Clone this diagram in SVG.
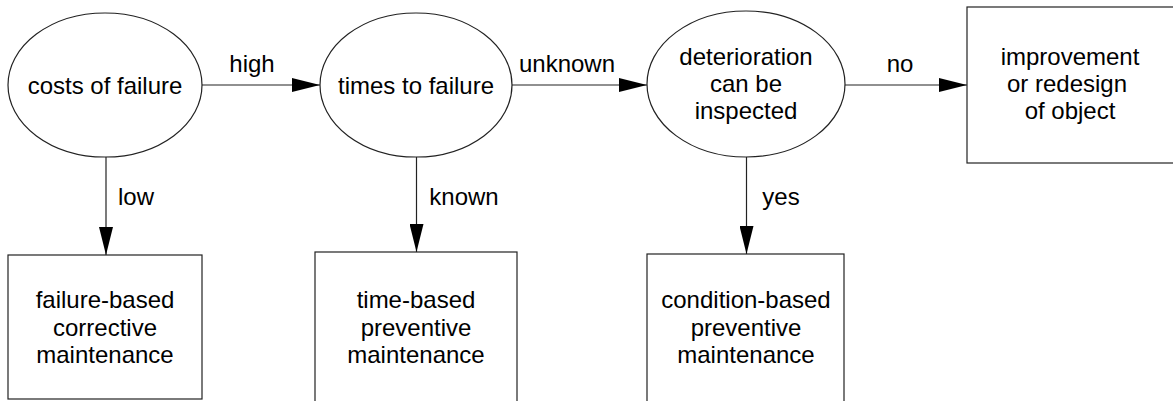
<svg xmlns="http://www.w3.org/2000/svg" width="1173" height="401" viewBox="0 0 1173 401">
<style>
text{font-family:"Liberation Sans",Arial,Helvetica,sans-serif;font-size:24px;fill:#000;text-anchor:middle}
.n{fill:#fff;stroke:#222;stroke-width:1.2}
.c{stroke:#222;stroke-width:1.2;fill:none;marker-end:url(#ah)}
</style>
<defs>
<marker id="ah" markerUnits="userSpaceOnUse" markerWidth="28" markerHeight="14" refX="28" refY="7" orient="auto">
<path d="M0,0 L28,7 L0,14 z" fill="#000"/>
</marker>
</defs>
<rect width="1173" height="401" fill="#fff"/>
<g id="connectors">
<line class="c" x1="202" y1="85" x2="320" y2="85"/>
<line class="c" x1="512" y1="85" x2="647" y2="85"/>
<line class="c" x1="845" y1="85" x2="967" y2="85"/>
<line class="c" x1="106" y1="157" x2="106" y2="255"/>
<line class="c" x1="416.5" y1="157" x2="416.5" y2="252"/>
<line class="c" x1="746.5" y1="157" x2="746.5" y2="254"/>
<text x="252" y="72">high</text>
<text x="567" y="72">unknown</text>
<text x="900" y="72">no</text>
<text x="136" y="205">low</text>
<text x="464" y="205">known</text>
<text x="781" y="205">yes</text>
</g>
<g id="costs">
<ellipse class="n" cx="105" cy="85" rx="97" ry="72"/>
<text x="105" y="94">costs of failure</text>
</g>
<g id="times">
<ellipse class="n" cx="416" cy="85" rx="96" ry="72"/>
<text x="416" y="94">times to failure</text>
</g>
<g id="deterioration">
<ellipse class="n" cx="746" cy="84" rx="99" ry="73"/>
<text x="746" y="65">deterioration</text>
<text x="746" y="92">can be</text>
<text x="746" y="119">inspected</text>
</g>
<g id="improvement">
<rect class="n" x="967" y="7" width="215" height="156"/>
<text x="1070" y="65">improvement</text>
<text x="1067" y="92">or redesign</text>
<text x="1070" y="119">of object</text>
</g>
<g id="failure-based">
<rect class="n" x="8" y="255" width="194" height="144"/>
<text x="105" y="308">failure-based</text>
<text x="105" y="336">corrective</text>
<text x="105" y="363">maintenance</text>
</g>
<g id="time-based">
<rect class="n" x="315" y="252" width="202" height="160"/>
<text x="416" y="308">time-based</text>
<text x="416" y="336">preventive</text>
<text x="416" y="363">maintenance</text>
</g>
<g id="condition-based">
<rect class="n" x="647" y="254" width="197" height="160"/>
<text x="746" y="308">condition-based</text>
<text x="746" y="336">preventive</text>
<text x="746" y="363">maintenance</text>
</g>
</svg>
